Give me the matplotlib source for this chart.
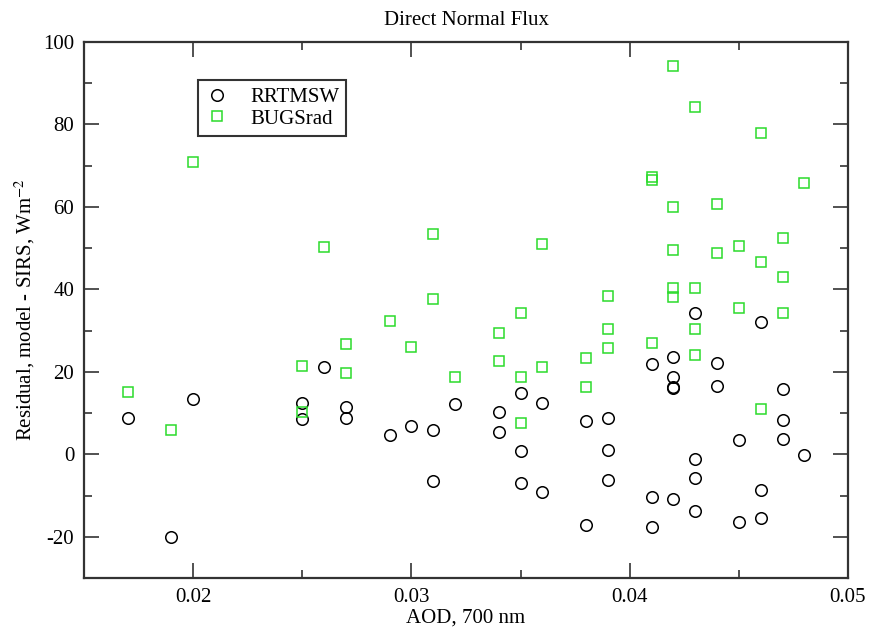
import matplotlib
matplotlib.use('Agg')
import matplotlib.pyplot as plt
from matplotlib.ticker import MultipleLocator

plt.rcParams['font.family'] = ['Liberation Serif', 'DejaVu Serif']
plt.rcParams['mathtext.fontset'] = 'stix'
plt.rcParams['axes.unicode_minus'] = False

# RRTMSW residuals (model - SIRS), W m-2
rrtm_aod = [0.017, 0.019, 0.020, 0.025, 0.025, 0.026, 0.027, 0.027, 0.029, 0.030,
            0.031, 0.031, 0.032, 0.034, 0.034, 0.035, 0.035, 0.035, 0.036, 0.036,
            0.038, 0.038, 0.039, 0.039, 0.039, 0.041, 0.041, 0.041, 0.042, 0.042,
            0.042, 0.042, 0.042, 0.043, 0.043, 0.043, 0.043, 0.044, 0.044, 0.045,
            0.045, 0.046, 0.046, 0.046, 0.047, 0.047, 0.047, 0.048]
rrtm_res = [8.9, -20.1, 13.4, 12.4, 8.5, 21.1, 11.5, 8.7, 4.7, 6.9,
            5.9, -6.5, 12.2, 10.3, 5.5, 14.9, 0.7, -7.0, 12.4, -9.1,
            8.2, -17.1, 8.7, 1.0, -6.2, 21.9, -10.4, -17.6, 23.7, 18.8,
            16.3, 16.0, -10.8, 34.3, -1.1, -5.7, -13.8, 22.2, 16.6, 3.5,
            -16.3, 32.0, -8.7, -15.4, 15.8, 8.4, 3.7, -0.1]

# BUGSrad residuals (model - SIRS), W m-2
bugs_aod = [0.017, 0.019, 0.020, 0.025, 0.025, 0.026, 0.027, 0.027, 0.029, 0.030,
            0.031, 0.031, 0.032, 0.034, 0.034, 0.035, 0.035, 0.035, 0.036, 0.036,
            0.038, 0.038, 0.039, 0.039, 0.039, 0.041, 0.041, 0.041, 0.042, 0.042,
            0.042, 0.042, 0.042, 0.043, 0.043, 0.043, 0.043, 0.044, 0.044, 0.045,
            0.045, 0.046, 0.046, 0.046, 0.047, 0.047, 0.047, 0.048]
bugs_res = [15.0, 5.9, 70.9, 21.4, 10.2, 50.2, 26.8, 19.8, 32.4, 26.1,
            53.4, 37.7, 18.8, 29.5, 22.7, 34.3, 18.8, 7.5, 50.9, 21.1,
            23.3, 16.4, 38.5, 30.3, 25.9, 67.2, 66.6, 26.9, 94.3, 59.9,
            49.6, 40.3, 38.2, 84.3, 40.3, 30.3, 24.1, 60.8, 48.9, 50.5,
            35.4, 77.9, 46.6, 10.9, 52.4, 43.1, 34.2, 65.7]

fig = plt.figure(figsize=(8.7, 6.28), dpi=100)
ax = fig.add_axes([0.0966, 0.0796, 0.8781, 0.8535])

ax.plot(rrtm_aod, rrtm_res, linestyle='none', marker='o', markersize=8.3,
        markerfacecolor='none', markeredgecolor='black', markeredgewidth=1.1,
        label='RRTMSW')
ax.plot(bugs_aod, bugs_res, linestyle='none', marker='s', markersize=7,
        markerfacecolor='none', markeredgecolor='#2bdb2b', markeredgewidth=1.1,
        label='BUGSrad')

ax.set_xlim(0.015, 0.05)
ax.set_ylim(-30, 100)
ax.xaxis.set_major_locator(MultipleLocator(0.01))
ax.xaxis.set_minor_locator(MultipleLocator(0.005))
ax.yaxis.set_major_locator(MultipleLocator(20))
ax.yaxis.set_minor_locator(MultipleLocator(10))
ax.xaxis.set_major_formatter(plt.FuncFormatter(lambda v, p: f'{v:.2f}'))

ax.tick_params(which='both', direction='in', top=True, right=True,
               labelsize=15, color='#222222')
ax.tick_params(which='major', length=11, width=1.1, pad=7)
ax.tick_params(which='minor', length=5.5, width=1.1)
for s in ax.spines.values():
    s.set_linewidth(1.6)
    s.set_color('#333333')

ax.set_title('Direct Normal Flux', fontsize=15, pad=12)
ax.set_xlabel('AOD, 700 nm', fontsize=15, labelpad=1)
ax.set_ylabel('Residual, model - SIRS, Wm$^{-2}$', fontsize=15)
ax.yaxis.set_label_coords(-0.062, 0.5)

leg = ax.legend(loc='upper left', bbox_to_anchor=(0.149, 0.929), borderaxespad=0,
                fontsize=15, frameon=True, fancybox=False, handlelength=1.1,
                handletextpad=1.05, borderpad=0.35, labelspacing=0.1)
leg.get_frame().set_edgecolor('black')
leg.get_frame().set_linewidth(1.5)

fig.savefig('out.png', dpi=100)
